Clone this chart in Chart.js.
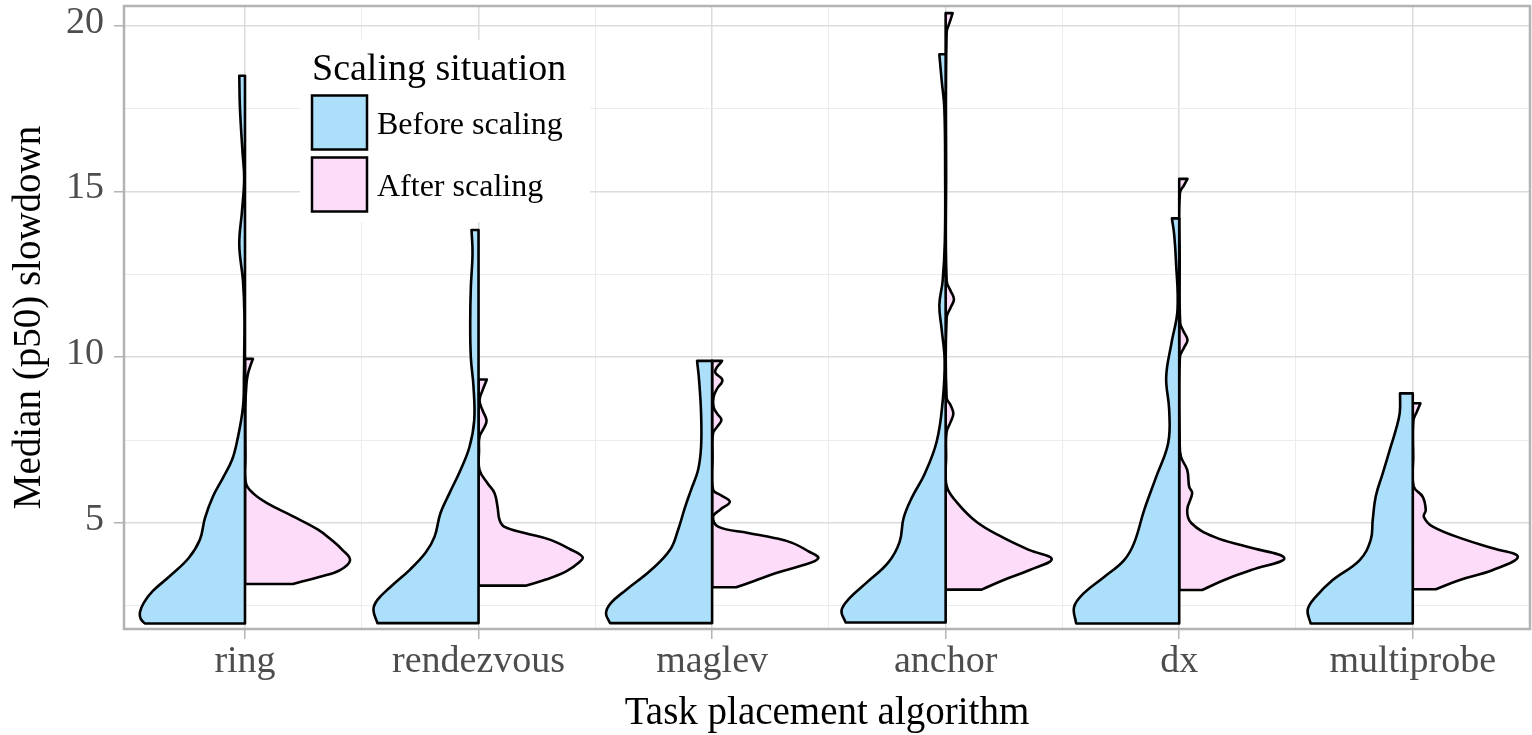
<!DOCTYPE html>
<html>
<head>
<meta charset="utf-8">
<script src="https://cdn.jsdelivr.net/npm/chart.js@4.4.1/dist/chart.umd.min.js"></script>
<style>
  html, body { margin: 0; padding: 0; background: #fff; }
</style>
</head>
<body>
<canvas id="violinChart" width="1532" height="735"></canvas>
<script>
const algorithms = ['ring', 'rendezvous', 'maglev', 'anchor', 'dx', 'multiprobe'];
const yGridValues = [2.5, 5, 7.5, 10, 12.5, 15, 17.5, 20];
const xGridValues = [1, 1.5, 2, 2.5, 3, 3.5, 4, 4.5, 5, 5.5, 6];

// before scaling: slowdown levels and the (relative) density at each level
const beforeLevels = [
  [1.97, 2.1, 2.3, 2.6, 2.95, 3.4, 3.95, 4.5, 5.15, 5.8, 6.36, 6.9, 7.45, 8.5, 9.5, 10.0, 11.3, 12.3, 13.4, 14.4, 15.4, 16.2, 17.5, 18.49],
  [1.98, 2.38, 2.68, 3.07, 3.58, 4.1, 4.58, 5.3, 5.9, 6.6, 7.3, 8.1, 9.1, 10.0, 11.1, 12.1, 13.14, 13.84],
  [1.98, 2.28, 2.59, 2.98, 3.58, 4.19, 4.79, 5.48, 6.0, 6.6, 7.3, 8.3, 9.31, 9.89],
  [2.0, 2.36, 2.73, 3.2, 3.82, 4.43, 5.15, 5.75, 6.48, 7.45, 8.66, 9.9, 10.85, 11.57, 12.3, 13.5, 15.5, 17.5, 18.36, 19.14],
  [1.97, 2.47, 2.89, 3.37, 3.88, 4.4, 5.39, 6.39, 7.41, 8.41, 9.4, 10.43, 11.43, 12.93, 13.7, 14.19],
  [1.97, 2.38, 2.77, 3.28, 3.88, 4.49, 5.09, 5.8, 6.5, 7.3, 7.8, 8.32, 8.91],
];
const beforeDensity = [
  [100, 104, 105, 101, 92, 75, 56, 45, 40, 32, 22, 13, 8, 2, 1, 0.8, 0.6, 2, 5.7, 3, 0.8, 2.5, 5, 5.7],
  [101, 105, 101, 88, 69, 53, 44, 38, 29, 18, 9, 4.3, 5, 7.7, 8.3, 7.7, 6, 7],
  [102, 106, 101, 86, 61, 42, 34, 27, 21, 14, 11, 11, 13, 15],
  [100, 104, 96, 79, 57, 46, 42, 34, 21, 9, 3, 1, 4, 6.3, 3, 0.8, 0.5, 1.3, 4, 6.3],
  [103, 105, 95, 75, 55, 45, 35, 23, 11, 10, 13, 7.7, 1.7, 3.3, 5, 7.3],
  [102, 105, 97, 80, 53, 42, 40, 37, 30, 22, 17, 13, 12.7],
];

// after scaling
const afterLevels = [
  [3.16, 3.38, 3.58, 3.88, 4.2, 4.5, 4.8, 5.2, 5.6, 5.9, 6.2, 7.0, 8.5, 9.2, 9.5, 9.75, 9.95],
  [3.11, 3.3, 3.55, 3.8, 3.97, 4.2, 4.49, 4.7, 4.88, 5.09, 5.48, 5.9, 6.2, 6.6, 7.2, 7.6, 7.9, 8.1, 8.4, 8.7, 9.0, 9.33],
  [3.06, 3.25, 3.49, 3.7, 3.93, 4.15, 4.4, 4.55, 4.7, 4.89, 5.19, 5.4, 5.64, 5.85, 6.0, 7.0, 7.71, 7.9, 8.11, 8.3, 8.5, 8.81, 9.05, 9.31, 9.56, 9.89],
  [2.99, 3.28, 3.58, 3.91, 4.18, 4.55, 5.03, 5.63, 6.12, 7.0, 7.75, 8.05, 8.3, 8.55, 8.78, 11.2, 11.5, 11.75, 12.0, 12.3, 15.5, 19.8, 20.1, 20.38],
  [2.98, 3.28, 3.58, 3.94, 4.28, 4.58, 5.0, 5.39, 5.9, 6.09, 6.6, 7.0, 7.5, 10.0, 10.3, 10.52, 10.8, 11.03, 13.0, 14.95, 15.2, 15.38],
  [3.0, 3.28, 3.58, 3.98, 4.24, 4.49, 4.89, 5.19, 5.39, 5.79, 6.1, 7.0, 8.1, 8.35, 8.61],
];
const afterDensity = [
  [48, 75, 95, 105, 97, 86, 73, 48, 22, 8, 1, 0.5, 0.4, 1.5, 3, 5.5, 8],
  [47, 68, 88, 100, 104, 92, 72, 46, 26, 21, 19, 16, 9, 1, 0.5, 1, 6, 8, 4, 1, 4, 8.3],
  [24, 42, 64, 88, 106, 96, 80, 62, 36, 6, 1, 8, 17.7, 8, 1, 0.5, 1, 5, 9.3, 5, 1.5, 1.5, 5, 10.3, 3, 10],
  [36, 58, 84, 106, 84, 58, 31, 11, 1, 0.5, 1, 5, 7.7, 5, 1, 1, 5, 8.3, 5, 1, 0.5, 1, 4, 7],
  [23, 45, 72, 105, 68, 35, 12, 8, 13, 10, 8, 1.7, 0.5, 0.7, 5, 8.3, 4, 1, 0.5, 0.7, 5, 8.3],
  [23, 47, 80, 105, 80, 53, 20, 11, 13, 10, 1, 0.5, 0.7, 4, 7.7],
];

const BEFORE_FILL = '#ace0fa';
const AFTER_FILL = '#fcdcf9';
const HALF_WIDTH = 0.45;     // widest half, in category units
const DENSITY_PEAK = 105;
const SERIF = "'Liberation Serif', 'Times New Roman', serif";
const GRID_MAJOR = '#dcdcdc';
const GRID_MINOR = '#ececec';
const AXIS_GREY = '#b3b3b3';

// one side of a split violin as a closed outline
function halfViolin(center, levels, density, side) {
  const edge = levels.map((v, i) => ({x: center + side * density[i] / DENSITY_PEAK * HALF_WIDTH, y: v}));
  const base = {x: center, y: levels[0]};
  const top = {x: center, y: levels[levels.length - 1]};
  const first = edge[0], last = edge[edge.length - 1];
  // doubled corners keep the trimmed ends and the centre line straight
  return [base, first, first, ...edge.slice(1, -1), last, last, top, top, base];
}

const datasets = [];
algorithms.forEach((name, i) => {
  datasets.push({
    label: name + ' before',
    data: halfViolin(i + 1, beforeLevels[i], beforeDensity[i], -1),
    backgroundColor: BEFORE_FILL,
  });
  datasets.push({
    label: name + ' after',
    data: halfViolin(i + 1, afterLevels[i], afterDensity[i], 1),
    backgroundColor: AFTER_FILL,
  });
});
datasets.forEach(d => Object.assign(d, {
  fill: 'shape', borderColor: '#000', borderWidth: 2.6, tension: 0.4,
  pointRadius: 0, borderJoinStyle: 'round', borderCapStyle: 'round',
}));

const panelDecor = {
  id: 'panelDecor',
  afterDatasetsDraw(chart) {
    const {ctx, chartArea: a} = chart;
    ctx.save();
    ctx.strokeStyle = AXIS_GREY;
    ctx.lineWidth = 2.5;
    ctx.strokeRect(a.left, a.top, a.right - a.left, a.bottom - a.top);
    ctx.restore();
  },
  afterDraw(chart) {
    const {ctx, chartArea: a} = chart;
    const lx = a.left + 188, ly = a.top;
    ctx.save();
    ctx.fillStyle = '#fff';
    ctx.fillRect(lx - 12, ly + 34, 290, 182);
    ctx.fillStyle = '#000';
    ctx.font = '38px ' + SERIF;
    ctx.textBaseline = 'alphabetic';
    ctx.fillText('Scaling situation', lx, ly + 74);
    const keys = [['Before scaling', BEFORE_FILL], ['After scaling', AFTER_FILL]];
    keys.forEach(([text, color], k) => {
      const by = ly + 89.5 + k * 62;
      ctx.fillStyle = color;
      ctx.fillRect(lx, by, 55, 54);
      ctx.strokeStyle = '#000';
      ctx.lineWidth = 2.5;
      ctx.strokeRect(lx, by, 55, 54);
      ctx.fillStyle = '#000';
      ctx.font = '32px ' + SERIF;
      ctx.fillText(text, lx + 65, by + 38);
    });
    ctx.restore();
  }
};

const noOverflow = s => {
  s.paddingTop = 0;
  s.paddingBottom = 0;
  s.paddingLeft = 0;
  s.paddingRight = 0;
};

new Chart(document.getElementById('violinChart').getContext('2d'), {
  type: 'line',
  data: {datasets},
  plugins: [panelDecor],
  options: {
    responsive: false,
    animation: false,
    layout: {padding: {left: 0, right: 2, top: 6, bottom: 0}},
    plugins: {legend: {display: false}, tooltip: {enabled: false}},
    scales: {
      x: {
        type: 'linear',
        min: 0.482,
        max: 6.502,
        afterBuildTicks: s => { s.ticks = xGridValues.map(v => ({value: v})); },
        afterFit: s => { s.height = 106; noOverflow(s); },
        border: {display: false},
        grid: {
          color: c => (c.tick && Number.isInteger(c.tick.value)) ? GRID_MAJOR : GRID_MINOR,
          lineWidth: c => (c.tick && Number.isInteger(c.tick.value)) ? 1.5 : 1,
          tickLength: 10,
          tickWidth: 1.5,
          tickColor: c => (c.tick && Number.isInteger(c.tick.value)) ? AXIS_GREY : 'rgba(0,0,0,0)',
        },
        ticks: {
          autoSkip: false,
          maxRotation: 0,
          padding: 4,
          color: '#4d4d4d',
          font: {family: SERIF, size: 38, lineHeight: 1},
          callback: v => Number.isInteger(v) ? algorithms[v - 1] : '',
        },
        title: {
          display: true,
          text: 'Task placement algorithm',
          color: '#000',
          font: {family: SERIF, size: 39, lineHeight: 1},
          padding: {top: 0, bottom: 1.5},
        },
      },
      y: {
        type: 'linear',
        min: 1.802,
        max: 20.596,
        afterBuildTicks: s => { s.ticks = yGridValues.map(v => ({value: v})); },
        afterFit: s => { s.width = 124; noOverflow(s); },
        border: {display: false},
        grid: {
          color: c => (c.tick && c.tick.value % 5 === 0) ? GRID_MAJOR : GRID_MINOR,
          lineWidth: c => (c.tick && c.tick.value % 5 === 0) ? 1.5 : 1,
          tickLength: 10,
          tickWidth: 1.5,
          tickColor: c => (c.tick && c.tick.value % 5 === 0) ? AXIS_GREY : 'rgba(0,0,0,0)',
        },
        ticks: {
          padding: 10,
          labelOffset: -3,
          color: '#4d4d4d',
          font: {family: SERIF, size: 38, lineHeight: 1},
          callback: v => v % 5 === 0 ? String(v) : '',
        },
        title: {
          display: true,
          text: 'Median (p50) slowdown',
          color: '#000',
          font: {family: SERIF, size: 39, lineHeight: 1},
          padding: {top: 10.5, bottom: 0},
        },
      },
    },
  },
});
</script>
</body>
</html>
